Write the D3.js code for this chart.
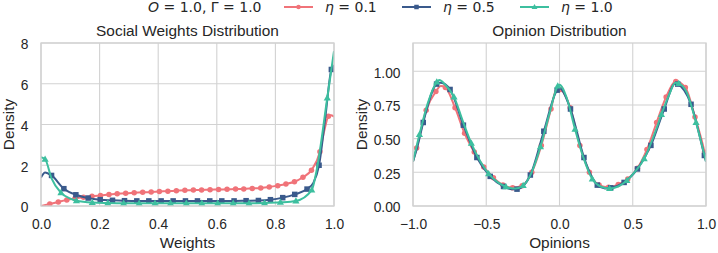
<!DOCTYPE html>
<html>
<head>
<meta charset="utf-8">
<script src="https://cdn.jsdelivr.net/npm/d3@7"></script>
<style>
  body { margin: 0; background: #fff; }
  svg { display: block; }
</style>
</head>
<body>
<div id="chart"></div>
<script>
  // ---- tick labels ----
  const weightTicksX = [0, 0.2, 0.4, 0.6, 0.8, 1.0];
  const weightTicksY = [0, 2, 4, 6, 8];
  const opinionTicksX = [-1, -0.5, 0, 0.5, 1];
  const opinionTicksY = [0, 0.25, 0.5, 0.75, 1.0];

  const etaValues = ['0.1', '0.5', '1.0'];
  const colors = ['#f07379', '#3a5a8c', '#3dbf9f'];
  const markerKinds = ['circle', 'square', 'triangle'];

  // ---- social weights density, points carrying a marker ----
  const wRedX = [0.030, 0.059, 0.088, 0.116, 0.145, 0.174, 0.203, 0.232, 0.260, 0.289, 0.318, 0.347, 0.376, 0.404, 0.433, 0.462, 0.491,
    0.520, 0.548, 0.577, 0.606, 0.635, 0.664, 0.692, 0.721, 0.750, 0.779, 0.808, 0.836, 0.865, 0.894, 0.923, 0.952, 0.981];
  const wRedY = [0.10, 0.20, 0.30, 0.37, 0.43, 0.48, 0.52, 0.56, 0.60, 0.63, 0.65, 0.67, 0.69, 0.71, 0.73, 0.75, 0.77,
    0.78, 0.79, 0.80, 0.81, 0.82, 0.83, 0.84, 0.86, 0.88, 0.93, 1.00, 1.08, 1.19, 1.41, 1.76, 2.66, 4.40];
  const wBlueX = [0.036, 0.078, 0.119, 0.161, 0.202, 0.244, 0.285, 0.327, 0.368, 0.410, 0.451, 0.493, 0.534, 0.576, 0.617, 0.659,
    0.700, 0.742, 0.783, 0.825, 0.866, 0.908, 0.949, 0.991];
  const wBlueY = [1.50, 0.85, 0.55, 0.39, 0.31, 0.28, 0.26, 0.25, 0.25, 0.25, 0.25, 0.25, 0.25, 0.25, 0.25, 0.25,
    0.26, 0.27, 0.31, 0.41, 0.57, 0.83, 2.00, 6.70];
  const wGreenX = [0.014, 0.068, 0.121, 0.175, 0.228, 0.282, 0.335, 0.389, 0.442, 0.496, 0.549, 0.603, 0.656, 0.710, 0.763, 0.817,
    0.870, 0.924, 0.977];
  const wGreenY = [2.30, 0.65, 0.26, 0.17, 0.15, 0.14, 0.14, 0.13, 0.13, 0.13, 0.13, 0.13, 0.14, 0.14, 0.15, 0.18,
    0.25, 0.78, 5.30];
  // extra points of the curves (no marker)
  const wRedLineX = [0, 0.967, 0.99, 1.0];
  const wRedLineY = [0.0, 3.70, 4.46, 4.38];
  const wBlueLineX = [0, 0.014, 0.93, 0.97, 1.0];
  const wBlueLineY = [1.40, 1.65, 1.15, 4.30, 6.90];
  const wGreenLineX = [0, 0.036, 0.1, 0.94, 1.0];
  const wGreenLineY = [2.40, 1.36, 0.36, 1.70, 7.60];

  // ---- opinion density, points carrying a marker ----
  const oRedX = [-0.975, -0.910, -0.844, -0.779, -0.713, -0.648, -0.582, -0.517, -0.451, -0.386, -0.320, -0.255, -0.189, -0.124, -0.058,
    0.008, 0.073, 0.139, 0.204, 0.270, 0.335, 0.401, 0.466, 0.532, 0.597, 0.663, 0.728, 0.794, 0.859, 0.925, 0.990];
  const oRedY = [0.43, 0.71, 0.85, 0.88, 0.73, 0.54, 0.40, 0.29, 0.21, 0.155, 0.135, 0.15, 0.25, 0.45, 0.72,
    0.865, 0.73, 0.45, 0.25, 0.155, 0.14, 0.16, 0.20, 0.28, 0.42, 0.62, 0.81, 0.925, 0.88, 0.66, 0.40];
  const oBlueX = [-0.930, -0.839, -0.747, -0.656, -0.564, -0.473, -0.382, -0.290, -0.199, -0.107, -0.016,
    0.075, 0.167, 0.258, 0.350, 0.441, 0.532, 0.624, 0.715, 0.807, 0.898, 0.989];
  const oBlueY = [0.62, 0.905, 0.865, 0.60, 0.36, 0.22, 0.145, 0.125, 0.23, 0.555, 0.86,
    0.72, 0.36, 0.155, 0.135, 0.175, 0.275, 0.45, 0.72, 0.905, 0.755, 0.375];
  const oGreenX = [-0.956, -0.838, -0.720, -0.602, -0.484, -0.366, -0.248, -0.130, -0.012, 0.106, 0.224, 0.342, 0.460,
    0.578, 0.696, 0.814, 0.932];
  const oGreenY = [0.53, 0.92, 0.81, 0.465, 0.24, 0.143, 0.152, 0.44, 0.89, 0.57, 0.20, 0.13, 0.19,
    0.35, 0.68, 0.91, 0.62];
  const oRedLineX = [-1.0, -0.81, -0.02, 1.0];
  const oRedLineY = [0.33, 0.89, 0.87, 0.35];
  const oBlueLineX = [-1.0, -0.97, -0.81, -0.33, 0.0, 0.31, 0.79, 1.0];
  const oBlueLineY = [0.33, 0.44, 0.915, 0.125, 0.875, 0.13, 0.91, 0.33];
  const oGreenLineX = [-1.0, -0.9, -0.82, -0.78, -0.66, -0.54, -0.42, -0.3, -0.19, -0.07, 0.0, 0.05, 0.16, 0.28, 0.40, 0.52, 0.64, 0.75, 0.79, 0.87, 1.0];
  const oGreenLineY = [0.33, 0.76, 0.935, 0.90, 0.63, 0.33, 0.175, 0.13, 0.25, 0.68, 0.90, 0.80, 0.37, 0.145, 0.145, 0.26, 0.51, 0.83, 0.915, 0.84, 0.33];

  const zip = (xs, ys) => xs.map((x, i) => ({ x, y: ys[i] }));
  function makeSeries(mx, my, lx, ly, i) {
    const marks = zip(mx, my);
    const line = marks.concat(zip(lx, ly)).sort((a, b) => a.x - b.x);
    return { marks, line, color: colors[i], kind: markerKinds[i] };
  }

  const weightSeries = [
    makeSeries(wRedX, wRedY, wRedLineX, wRedLineY, 0),
    makeSeries(wBlueX, wBlueY, wBlueLineX, wBlueLineY, 1),
    makeSeries(wGreenX, wGreenY, wGreenLineX, wGreenLineY, 2)
  ];
  const opinionSeries = [
    makeSeries(oRedX, oRedY, oRedLineX, oRedLineY, 0),
    makeSeries(oBlueX, oBlueY, oBlueLineX, oBlueLineY, 1),
    makeSeries(oGreenX, oGreenY, oGreenLineX, oGreenLineY, 2)
  ];

  const width = 718, height = 253;
  const textFont = '"Liberation Sans", Arial, sans-serif';
  const mathFont = '"DejaVu Sans", sans-serif';
  const gridColor = '#d2d2d2';
  const textColor = '#262626';

  const svg = d3.select('#chart').append('svg')
    .attr('width', width).attr('height', height)
    .attr('viewBox', `0 0 ${width} ${height}`);

  function drawMarker(sel, kind, color, size) {
    if (kind === 'circle') {
      sel.append('circle').attr('r', size * 0.5).attr('fill', color);
    } else if (kind === 'square') {
      sel.append('rect').attr('x', -size / 2).attr('y', -size / 2)
        .attr('width', size).attr('height', size).attr('fill', color);
    } else {
      const s = size * 0.65;
      sel.append('path').attr('d', `M0,${-s * 1.05}L${s},${s * 0.7}L${-s},${s * 0.7}Z`).attr('fill', color);
    }
  }

  function panel(opts) {
    const { left, right, top, bottom, xDomain, yDomain, xTicks, yTicks, xFmt, yFmt, series, title, xLabel, yLabelX, id } = opts;
    const x = d3.scaleLinear().domain(xDomain).range([left, right]);
    const y = d3.scaleLinear().domain(yDomain).range([bottom, top]);
    const g = svg.append('g');

    // grid
    g.append('g').selectAll('line').data(xTicks).enter().append('line')
      .attr('x1', d => x(d)).attr('x2', d => x(d)).attr('y1', top).attr('y2', bottom)
      .attr('stroke', gridColor).attr('stroke-width', 1.1);
    g.append('g').selectAll('line').data(yTicks).enter().append('line')
      .attr('x1', left).attr('x2', right).attr('y1', d => y(d)).attr('y2', d => y(d))
      .attr('stroke', gridColor).attr('stroke-width', 1.1);

    // clip
    svg.append('clipPath').attr('id', id).append('rect')
      .attr('x', left).attr('y', top).attr('width', right - left).attr('height', bottom - top);
    const plot = g.append('g').attr('clip-path', `url(#${id})`);

    const line = d3.line().x(d => x(d.x)).y(d => y(d.y)).curve(d3.curveMonotoneX);
    series.forEach(s => {
      plot.append('path').attr('d', line(s.line))
        .attr('fill', 'none').attr('stroke', s.color).attr('stroke-width', 2)
        .attr('stroke-linejoin', 'round');
      s.marks.forEach(p => {
        const m = plot.append('g').attr('transform', `translate(${x(p.x)},${y(p.y)})`);
        drawMarker(m, s.kind, s.color, 5.5);
      });
    });

    // frame
    g.append('rect').attr('x', left).attr('y', top).attr('width', right - left).attr('height', bottom - top)
      .attr('fill', 'none').attr('stroke', gridColor).attr('stroke-width', 1.3);

    // axes
    const ax = g.append('g').attr('transform', `translate(0,${bottom})`)
      .call(d3.axisBottom(x).tickValues(xTicks).tickFormat(xFmt).tickSize(0).tickPadding(13));
    const ay = g.append('g').attr('transform', `translate(${left},0)`)
      .call(d3.axisLeft(y).tickValues(yTicks).tickFormat(yFmt).tickSize(0).tickPadding(12.5));
    [ax, ay].forEach(a => {
      a.select('.domain').remove();
      a.selectAll('text').attr('fill', textColor).style('font-family', textFont).style('font-size', '13.8px');
    });
    ay.selectAll('text').attr('dy', '0.42em');

    g.append('text').attr('x', (left + right) / 2).attr('y', 35.5)
      .attr('text-anchor', 'middle').attr('fill', textColor)
      .style('font-family', textFont).style('font-size', '15.4px').text(title);
    g.append('text').attr('x', (left + right) / 2).attr('y', 247.5)
      .attr('text-anchor', 'middle').attr('fill', textColor)
      .style('font-family', textFont).style('font-size', '15.4px').text(xLabel);
    g.append('text').attr('transform', `translate(${yLabelX},${(top + bottom) / 2}) rotate(-90)`)
      .attr('text-anchor', 'middle').attr('fill', textColor)
      .style('font-family', textFont).style('font-size', '15.4px').text('Density');
  }

  const fmt1 = d3.format('.1f');
  const fmtMinus = d => fmt1(d).replace('-', '\u2212');

  panel({
    id: 'clipW', left: 41, right: 334, top: 43, bottom: 206,
    xDomain: [0, 1], yDomain: [0, 8], xTicks: weightTicksX, yTicks: weightTicksY,
    xFmt: fmt1, yFmt: d3.format('d'), series: weightSeries,
    title: 'Social Weights Distribution', xLabel: 'Weights', yLabelX: 13.5
  });
  panel({
    id: 'clipO', left: 413, right: 706, top: 43, bottom: 206,
    xDomain: [-1, 1], yDomain: [0, 1.21], xTicks: opinionTicksX, yTicks: opinionTicksY,
    xFmt: fmtMinus, yFmt: d3.format('.2f'), series: opinionSeries,
    title: 'Opinion Distribution', xLabel: 'Opinions', yLabelX: 366.5
  });

  // ---- legend ----
  const legend = svg.append('g').style('font-family', mathFont).style('font-size', '14px').attr('fill', textColor);
  const head = legend.append('text').attr('x', 148).attr('y', 12);
  head.append('tspan').style('font-style', 'italic').text('O');
  head.append('tspan').text(' = 1.0, \u0393 = 1.0');

  const handleX = [284, 402, 520];
  const labelX = [325, 443, 561];
  etaValues.forEach((v, i) => {
    legend.append('line').attr('x1', handleX[i]).attr('x2', handleX[i] + 29).attr('y1', 7).attr('y2', 7)
      .attr('stroke', colors[i]).attr('stroke-width', 2);
    const m = legend.append('g').attr('transform', `translate(${handleX[i] + 14.5},7)`);
    drawMarker(m, markerKinds[i], colors[i], 4.5);
    const t = legend.append('text').attr('x', labelX[i]).attr('y', 12);
    t.append('tspan').style('font-style', 'italic').text('\u03b7');
    t.append('tspan').text(' = ' + v);
  });
</script>
</body>
</html>
